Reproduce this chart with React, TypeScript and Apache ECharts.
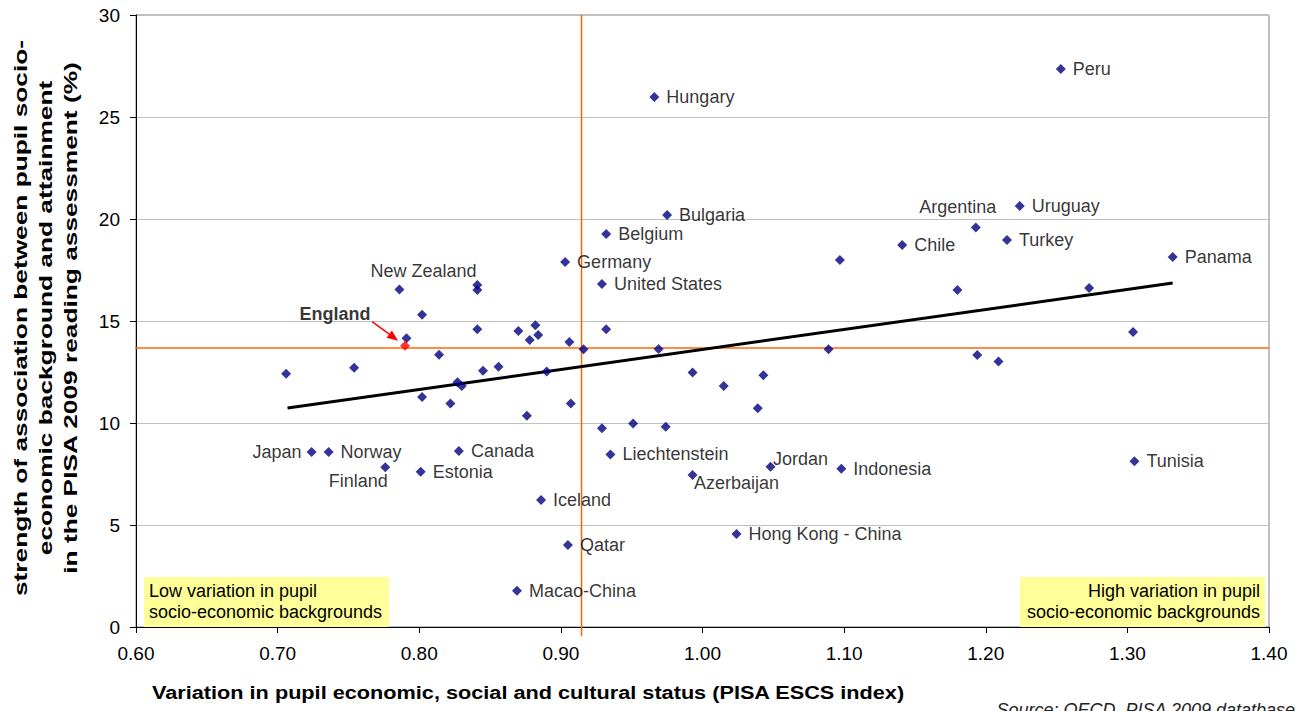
import React, { useEffect, useRef } from "react";
import * as echarts from "echarts";

// ---- Data ----
const countries = [
  "Peru", "Hungary", "Uruguay", "Bulgaria", "Argentina", "Belgium", "Turkey", "Chile", "Panama",
  "Germany", "United States", "New Zealand", "England", "Japan", "Norway", "Finland", "Estonia",
  "Canada", "Iceland", "Macao-China", "Qatar", "Liechtenstein", "Azerbaijan", "Jordan",
  "Indonesia", "Hong Kong - China", "Tunisia",
];
const escsVariation = [
  1.253, 0.966, 1.224, 0.975, 1.193, 0.932, 1.215, 1.141, 1.332,
  0.903, 0.929, 0.786, 0.790, 0.724, 0.736, 0.776, 0.801,
  0.828, 0.886, 0.869, 0.905, 0.935, 0.993, 1.048,
  1.098, 1.024, 1.305,
];
const socioAssociation = [
  27.35, 25.98, 20.64, 20.2, 19.58, 19.26, 18.97, 18.73, 18.14,
  17.89, 16.81, 16.55, 13.79, 8.58, 8.58, 7.83, 7.61,
  8.63, 6.23, 1.78, 4.02, 8.46, 7.45, 7.86,
  7.76, 4.56, 8.12,
];
// countries shown without a label
const unlabeledEscs = [
  1.097, 0.841, 0.841, 1.180, 1.273, 0.802, 0.841, 0.870, 0.882, 0.878,
  0.884, 0.906, 0.916, 0.932, 0.969, 0.845, 0.856, 0.890, 0.907, 0.876,
  0.929, 0.951, 0.974, 0.993, 1.015, 1.043, 1.039, 0.706, 0.754, 0.791,
  0.814, 0.802, 0.822, 0.827, 0.830, 1.089, 1.194, 1.209, 1.304,
];
const unlabeledAssoc = [
  17.99, 16.76, 16.52, 16.52, 16.62, 15.31, 14.59, 14.51, 14.79, 14.07,
  14.31, 13.97, 13.61, 14.59, 13.63, 12.56, 12.76, 12.52, 10.95, 10.36,
  9.74, 9.98, 9.82, 12.47, 11.81, 12.34, 10.72, 12.42, 12.71, 14.15,
  13.35, 11.27, 10.96, 12.0, 11.81, 13.61, 13.33, 13.01, 14.46,
];
const trendX = [0.707, 1.332];
const trendY = [10.73, 16.86];
const averageEscs = 0.9146;
const averageAssoc = 13.68;
const xMin = 0.6, xMax = 1.4, xStep = 0.1;
const yMin = 0, yMax = 30, yStep = 5;

const yTitle = [
  "strength of association between pupil socio-",
  "economic background and attainment",
  "in the PISA 2009 reading assessment (%)",
];
const xTitle = "Variation in pupil economic, social and cultural status (PISA ESCS index)";
const lowNote = ["Low variation in pupil", "socio-economic backgrounds"];
const highNote = ["High variation in pupil", "socio-economic backgrounds"];
const sourceNote = "Source: OECD, PISA 2009 datatbase";

// ---- Styling ----
const FONT = 'Arial, "Liberation Sans", sans-serif';
const NAVY = "#000080";
const ORANGE = "#FF6600";
const SYMBOL = 10;

// label offsets (pixels from the marker centre) for labels not placed to the right
const labelSpots: Record<string, any> = {
  Japan: { side: "left" },
  "New Zealand": { offset: [24, -18] },
  Argentina: { offset: [-18, -21] },
  Finland: { offset: [-27, 14] },
  Azerbaijan: { offset: [44, 8] },
  Jordan: { offset: [30, -8] },
  England: { offset: [-70, -32], bold: true },
};

export default function App() {
  const ref = useRef<HTMLDivElement>(null);

  useEffect(() => {
    document.body.style.margin = "0";
    const chart = echarts.init(ref.current!, null, { renderer: "svg" });

    const labeledData = countries.map((name, i) => {
      const spot = labelSpots[name];
      const isEngland = name === "England";
      let placement: any;
      if (spot && spot.offset) {
        placement = {
          position: [SYMBOL / 2 + spot.offset[0], SYMBOL / 2 + spot.offset[1]],
          align: "center",
          verticalAlign: "middle",
        };
      } else if (spot && spot.side === "left") {
        placement = { position: "left", distance: 5 };
      } else {
        placement = { position: "right", distance: 7 };
      }
      return {
        name,
        value: [escsVariation[i], socioAssociation[i]],
        itemStyle: { color: isEngland ? "#FF0000" : NAVY },
        label: {
          show: true,
          formatter: name,
          ...placement,
          fontWeight: spot && spot.bold ? "bold" : "normal",
          fontSize: 18,
          fontFamily: FONT,
          color: "#000",
        },
      };
    });

    const unlabeledData = unlabeledEscs.map((x, i) => [x, unlabeledAssoc[i]]);

    const option: any = {
      animation: false,
      backgroundColor: "#fff",
      textStyle: { fontFamily: FONT },
      grid: {
        left: 136, right: 35, top: 15, bottom: 84,
        show: true, borderColor: "#808080", borderWidth: 1, backgroundColor: "transparent",
      },
      xAxis: {
        type: "value", min: xMin, max: xMax, interval: xStep,
        axisLine: { show: true, onZero: false, lineStyle: { color: "#000", width: 1 } },
        axisTick: { show: true, length: 6, lineStyle: { color: "#000" } },
        splitLine: { show: false },
        axisLabel: {
          color: "#000", fontSize: 19, fontFamily: FONT, margin: 17,
          formatter: (v: number) => v.toFixed(2),
        },
      },
      yAxis: {
        type: "value", min: yMin, max: yMax, interval: yStep,
        axisLine: { show: true, lineStyle: { color: "#000", width: 1 } },
        axisTick: { show: true, length: 6, lineStyle: { color: "#000" } },
        splitLine: { show: true, lineStyle: { color: "#C0C0C0", width: 1 } },
        axisLabel: { color: "#000", fontSize: 19, fontFamily: FONT, margin: 16 },
      },
      series: [
        {
          type: "line", clip: false, symbol: "none", silent: true,
          lineStyle: { color: ORANGE, width: 1.5 },
          data: [[averageEscs, yMax], [averageEscs, yMin - 0.45]],
          z: 1,
        },
        {
          type: "line", clip: false, symbol: "none", silent: true,
          lineStyle: { color: ORANGE, width: 1.5 },
          data: [[xMin - 0.0045, averageAssoc], [xMax, averageAssoc]],
          z: 1,
        },
        {
          type: "line", symbol: "none", silent: true,
          lineStyle: { color: "#000", width: 3 },
          data: [[trendX[0], trendY[0]], [trendX[1], trendY[1]]],
          z: 2,
        },
        {
          type: "scatter", symbol: "diamond", symbolSize: SYMBOL,
          itemStyle: { color: NAVY },
          data: unlabeledData, z: 3,
        },
        {
          type: "scatter", symbol: "diamond", symbolSize: SYMBOL,
          itemStyle: { color: NAVY },
          data: labeledData, z: 4,
          labelLayout: { hideOverlap: false },
        },
      ],
    };
    chart.setOption(option);

    // England arrow, positioned from the England data point
    const ei = countries.indexOf("England");
    const p = chart.convertToPixel({ seriesIndex: 4 }, [escsVariation[ei], socioAssociation[ei]]) as number[];
    const tail = [p[0] - 33, p[1] - 24];
    const tip = [p[0] - 7, p[1] - 5];
    const dx = tip[0] - tail[0], dy = tip[1] - tail[1];
    const len = Math.hypot(dx, dy);
    const ux = dx / len, uy = dy / len;
    const base = [tip[0] - ux * 11, tip[1] - uy * 11];
    const nx = -uy, ny = ux;

    const textBase = { fill: "#000", fontFamily: FONT, fontSize: 18 };
    chart.setOption({
      graphic: [
        {
          type: "line", silent: true, z: 10,
          shape: { x1: tail[0], y1: tail[1], x2: base[0], y2: base[1] },
          style: { stroke: "#FF0000", lineWidth: 1.5 },
        },
        {
          type: "polygon", silent: true, z: 10,
          shape: { points: [tip, [base[0] + nx * 4.5, base[1] + ny * 4.5], [base[0] - nx * 4.5, base[1] - ny * 4.5]] },
          style: { fill: "#FF0000" },
        },
        {
          type: "text", x: 46, y: 318, rotation: Math.PI / 2, scaleX: 1.46, silent: true,
          style: {
            ...textBase, fontWeight: "bold", text: yTitle.join("\n"), lineHeight: 25,
            align: "center", verticalAlign: "middle", textAlign: "center", textVerticalAlign: "middle",
          },
        },
        {
          type: "text", x: 152, y: 693, scaleX: 1.205, silent: true,
          style: {
            ...textBase, fontWeight: "bold", text: xTitle,
            align: "left", verticalAlign: "middle", textAlign: "left", textVerticalAlign: "middle",
          },
        },
        {
          type: "text", x: 1295, y: 710, silent: true,
          style: {
            ...textBase, fontStyle: "italic", text: sourceNote, fill: "#222",
            align: "right", verticalAlign: "middle", textAlign: "right", textVerticalAlign: "middle",
          },
        },
        {
          type: "rect", silent: true, z: 5,
          shape: { x: 144, y: 577, width: 245, height: 50 },
          style: { fill: "#FFFF99" },
        },
        {
          type: "text", x: 149, y: 601, silent: true, z: 6,
          style: {
            ...textBase, text: lowNote.join("\n"), lineHeight: 21,
            align: "left", verticalAlign: "middle", textAlign: "left", textVerticalAlign: "middle",
          },
        },
        {
          type: "rect", silent: true, z: 5,
          shape: { x: 1020, y: 577, width: 245, height: 50 },
          style: { fill: "#FFFF99" },
        },
        {
          type: "text", x: 1260, y: 601, silent: true, z: 6,
          style: {
            ...textBase, text: highNote.join("\n"), lineHeight: 21,
            align: "right", verticalAlign: "middle", textAlign: "right", textVerticalAlign: "middle",
          },
        },
      ],
    });

    return () => chart.dispose();
  }, []);

  return <div ref={ref} style={{ width: 1304, height: 711 }} />;
}
